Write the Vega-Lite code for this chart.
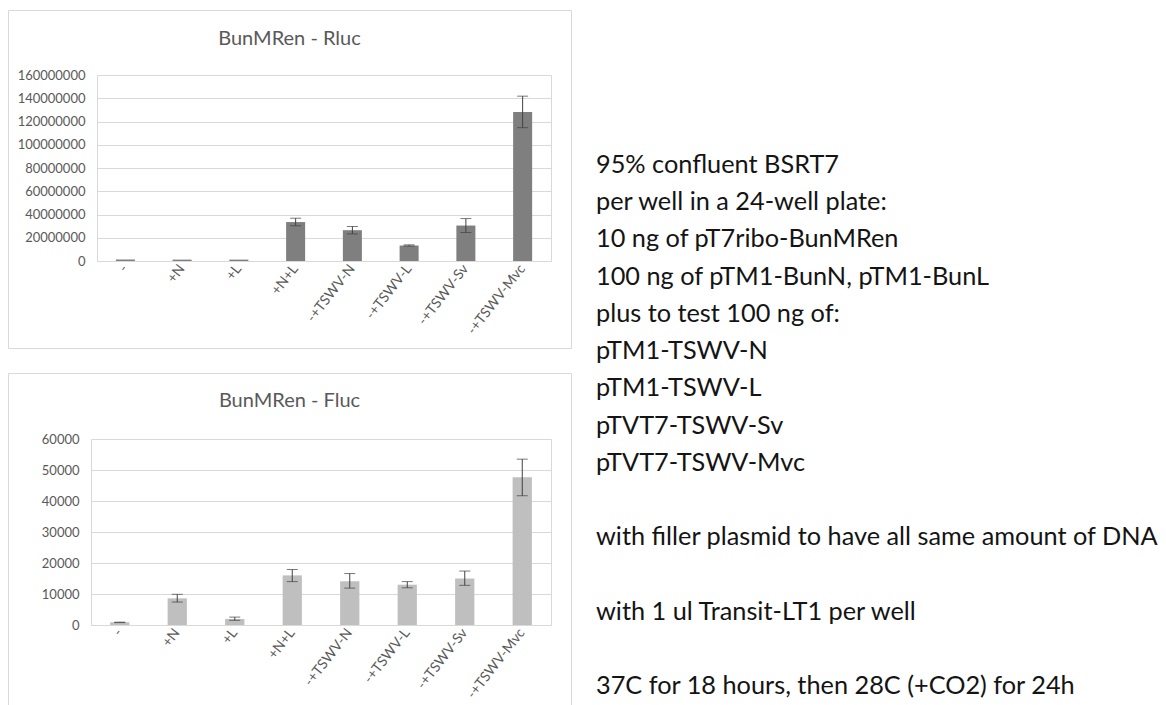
{
  "$schema": "https://vega.github.io/schema/vega-lite/v6.json",
  "background": "white",
  "padding": {"left": 7, "top": 9, "right": 0, "bottom": 0},
  "datasets": {
    "rluc": [
      {"cond": "-", "mean": 1200000, "lo": null, "hi": null},
      {"cond": "+N", "mean": 1200000, "lo": null, "hi": null},
      {"cond": "+L", "mean": 1200000, "lo": null, "hi": null},
      {"cond": "+N+L", "mean": 33500000, "lo": 30300000, "hi": 36800000},
      {"cond": "-+TSWV-N", "mean": 26500000, "lo": 23300000, "hi": 29700000},
      {"cond": "-+TSWV-L", "mean": 13300000, "lo": 12800000, "hi": 13900000},
      {"cond": "-+TSWV-Sv", "mean": 30500000, "lo": 24500000, "hi": 36500000},
      {"cond": "-+TSWV-Mvc", "mean": 128200000, "lo": 114700000, "hi": 141800000}
    ],
    "fluc": [
      {"cond": "-", "mean": 850, "lo": 780, "hi": 920},
      {"cond": "+N", "mean": 8600, "lo": 7400, "hi": 9900},
      {"cond": "+L", "mean": 1950, "lo": 1500, "hi": 2550},
      {"cond": "+N+L", "mean": 16000, "lo": 14000, "hi": 17900},
      {"cond": "-+TSWV-N", "mean": 14100, "lo": 11900, "hi": 16600},
      {"cond": "-+TSWV-L", "mean": 13000, "lo": 12000, "hi": 14000},
      {"cond": "-+TSWV-Sv", "mean": 15000, "lo": 12800, "hi": 17400},
      {"cond": "-+TSWV-Mvc", "mean": 47700, "lo": 41700, "hi": 53500}
    ],
    "notes": [
      {"line": 0, "text": "95% confluent BSRT7"},
      {"line": 1, "text": "per well in a 24-well plate:"},
      {"line": 2, "text": "10 ng of pT7ribo-BunMRen"},
      {"line": 3, "text": "100 ng of pTM1-BunN, pTM1-BunL"},
      {"line": 4, "text": "plus to test 100 ng of:"},
      {"line": 5, "text": "pTM1-TSWV-N"},
      {"line": 6, "text": "pTM1-TSWV-L"},
      {"line": 7, "text": "pTVT7-TSWV-Sv"},
      {"line": 8, "text": "pTVT7-TSWV-Mvc"},
      {"line": 10, "text": "with filler plasmid to have all same amount of DNA"},
      {"line": 12, "text": "with 1 ul Transit-LT1 per well"},
      {"line": 14, "text": "37C for 18 hours, then 28C (+CO2) for 24h"}
    ]
  },
  "config": {
    "font": "Lato",
    "view": {"stroke": "#d9d9d9", "strokeWidth": 1},
    "title": {"font": "Lato", "fontSize": 20, "fontWeight": "normal", "color": "#595959", "anchor": "middle", "frame": "group"},
    "axis": {"labelFont": "Lato", "labelColor": "#595959", "title": null, "ticks": false, "domainColor": "#d9d9d9", "gridColor": "#d9d9d9"}
  },
  "spacing": 24,
  "hconcat": [
    {
      "spacing": 23,
      "vconcat": [
        {
          "width": 563,
          "height": 338,
          "title": {"text": "BunMRen - Rluc", "offset": -39},
          "data": {"name": "rluc"},
          "encoding": {
            "x": {
              "field": "cond", "type": "nominal", "sort": null,
              "scale": {"range": [89, 543], "paddingInner": 0, "paddingOuter": 0},
              "axis": {"orient": "bottom", "offset": -87, "labelAngle": -52, "labelFontSize": 14, "labelPadding": 5, "domain": true, "grid": false}
            }
          },
          "layer": [
            {
              "mark": {"type": "bar", "color": "#7f7f7f", "width": {"band": 0.335}},
              "encoding": {
                "y": {
                  "field": "mean", "type": "quantitative",
                  "scale": {"domain": [0, 160000000], "range": [251, 65], "nice": false},
                  "axis": {"orient": "left", "offset": -89, "values": [0, 20000000, 40000000, 60000000, 80000000, 100000000, 120000000, 140000000, 160000000], "format": "d", "grid": true, "domain": true, "labelPadding": 12, "labelFontSize": 13}
                }
              }
            },
            {
              "mark": {"type": "rule", "color": "#404040", "strokeWidth": 1},
              "encoding": {
                "y": {"field": "lo", "type": "quantitative", "axis": {"orient": "right", "offset": -20, "labels": false, "grid": false, "domain": true}},
                "y2": {"field": "hi"}
              }
            },
            {
              "mark": {"type": "tick", "color": "#404040", "size": 11, "thickness": 1},
              "encoding": {"y": {"field": "lo", "type": "quantitative", "axis": null}}
            },
            {
              "mark": {"type": "tick", "color": "#404040", "size": 11, "thickness": 1},
              "encoding": {"y": {"field": "hi", "type": "quantitative", "axis": null}}
            }
          ],
          "resolve": {"axis": {"y": "independent"}}
        },
        {
          "width": 563,
          "height": 335,
          "title": {"text": "BunMRen - Fluc", "offset": -38},
          "data": {"name": "fluc"},
          "encoding": {
            "x": {
              "field": "cond", "type": "nominal", "sort": null,
              "scale": {"range": [83, 543], "paddingInner": 0, "paddingOuter": 0},
              "axis": {"orient": "bottom", "offset": -83, "labelAngle": -52, "labelFontSize": 14, "labelPadding": 5, "domain": true, "grid": false}
            }
          },
          "layer": [
            {
              "mark": {"type": "bar", "color": "#bfbfbf", "width": {"band": 0.335}},
              "encoding": {
                "y": {
                  "field": "mean", "type": "quantitative",
                  "scale": {"domain": [0, 60000], "range": [252, 66], "nice": false},
                  "axis": {"orient": "left", "offset": -83, "values": [0, 10000, 20000, 30000, 40000, 50000, 60000], "format": "d", "grid": true, "domain": true, "labelPadding": 12, "labelFontSize": 13}
                }
              }
            },
            {
              "mark": {"type": "rule", "color": "#404040", "strokeWidth": 1},
              "encoding": {
                "y": {"field": "lo", "type": "quantitative", "axis": {"orient": "right", "offset": -20, "labels": false, "grid": false, "domain": true}},
                "y2": {"field": "hi"}
              }
            },
            {
              "mark": {"type": "tick", "color": "#404040", "size": 11, "thickness": 1},
              "encoding": {"y": {"field": "lo", "type": "quantitative", "axis": null}}
            },
            {
              "mark": {"type": "tick", "color": "#404040", "size": 11, "thickness": 1},
              "encoding": {"y": {"field": "hi", "type": "quantitative", "axis": null}}
            }
          ],
          "resolve": {"axis": {"y": "independent"}}
        }
      ]
    },
    {
      "width": 572,
      "height": 696,
      "view": {"stroke": null},
      "data": {"name": "notes"},
      "mark": {"type": "text", "align": "left", "baseline": "alphabetic", "font": "Lato", "fontSize": 25.3, "color": "#141414"},
      "encoding": {
        "x": {"datum": 0, "type": "quantitative", "scale": {"domain": [0, 1], "range": [0, 572]}, "axis": null},
        "y": {"field": "line", "type": "quantitative", "scale": {"domain": [0, 14], "range": [163, 684]}, "axis": null},
        "text": {"field": "text"}
      }
    }
  ]
}
